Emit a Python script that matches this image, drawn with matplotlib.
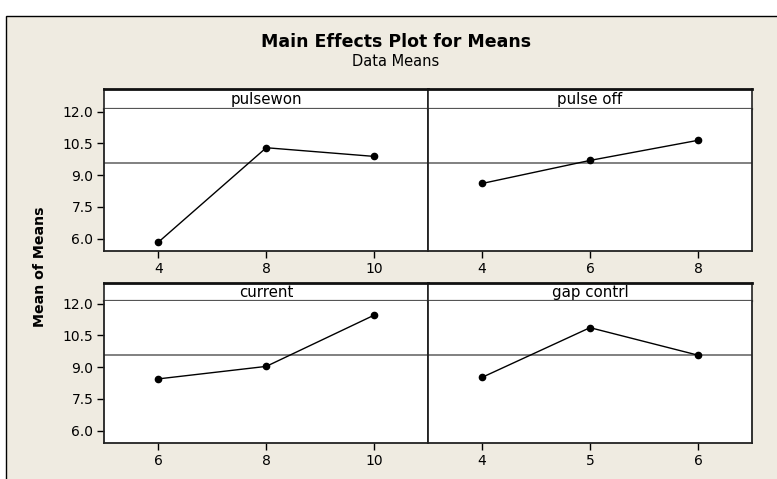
import numpy as np
import matplotlib
matplotlib.use("Agg")
import matplotlib.pyplot as plt
from matplotlib.patches import Rectangle

# Factor levels and the mean of means at each level
factors = ["pulsewon", "pulse off", "current", "gap contrl"]
levels = [[4, 8, 10], [4, 6, 8], [6, 8, 10], [4, 5, 6]]
means = [[5.83, 10.29, 9.88],
         [8.60, 9.69, 10.64],
         [8.44, 9.03, 11.45],
         [8.51, 10.86, 9.56]]
grand_mean = 9.58
yticks = [6.0, 7.5, 9.0, 10.5, 12.0]

W, H = 777, 479
bg = "#efebe1"

fig = plt.figure(figsize=(W / 100, H / 100), dpi=100)
fig.patch.set_facecolor("white")

# outer beige frame (cut off at right and bottom like the screenshot)
fig.add_artist(Rectangle((5.5 / W, -0.1), 2.0, 1 - 16 / H + 0.1, transform=fig.transFigure,
                         facecolor=bg, edgecolor="black", lw=1.0, zorder=0))

def box(x0, y0, x1, y1):
    # pixel box -> figure fraction rect
    return [x0 / W, 1 - y1 / H, (x1 - x0) / W, (y1 - y0) / H]

cols = [(104.5, 428), (428, 752)]
rows = [(89, 109, 251), (283, 301, 443)]

for k in range(4):
    r, c = divmod(k, 2)
    x0, x1 = cols[c]
    s0, s1, p1 = rows[r]

    # strip header with the factor name
    sax = fig.add_axes(box(x0, s0, x1, s1))
    sax.set_facecolor("white")
    sax.set_xticks([])
    sax.set_yticks([])
    for sp in sax.spines.values():
        sp.set_color("#222222")
        sp.set_linewidth(1.2)
    sax.spines["top"].set_linewidth(2.0)
    sax.spines["top"].set_color("#111111")
    sax.spines["bottom"].set_color("#555555")
    sax.spines["bottom"].set_linewidth(1.6)
    sax.text(0.5, 0.47, factors[k], ha="center", va="center", fontsize=10.8, transform=sax.transAxes)

    # plot panel
    ax = fig.add_axes(box(x0, s1, x1, p1))
    ax.set_facecolor("white")
    pos = np.arange(1, len(levels[k]) + 1)
    ax.axhline(grand_mean, color="#808080", lw=1.4, zorder=1)
    ax.plot(pos, means[k], color="black", lw=1.0, marker="o", markersize=4.5, zorder=3)
    ax.set_xlim(0.5, 3.5)
    ax.set_ylim(5.41, 12.12)
    ax.set_xticks(pos)
    ax.set_xticklabels([str(v) for v in levels[k]])
    ax.set_yticks(yticks)
    if c == 0:
        ax.set_yticklabels(["%.1f" % v for v in yticks])
    else:
        ax.tick_params(axis="y", left=False, labelleft=False)
    ax.tick_params(direction="out", length=5, width=1.0, labelsize=10, pad=3, colors="black")
    for sp in ax.spines.values():
        sp.set_color("#222222")
        sp.set_linewidth(1.3)
    ax.spines["top"].set_visible(False)

fig.text(396 / W, 1 - 42 / H, "Main Effects Plot for Means", ha="center", va="center",
         fontsize=12.5, fontweight="bold")
fig.text(396 / W, 1 - 62 / H, "Data Means", ha="center", va="center", fontsize=10.5)
fig.text(40 / W, 1 - 267 / H, "Mean of Means", ha="center", va="center", rotation=90,
         fontsize=10.2, fontweight="bold")

fig.savefig("out.png", dpi=100, facecolor=fig.get_facecolor())
